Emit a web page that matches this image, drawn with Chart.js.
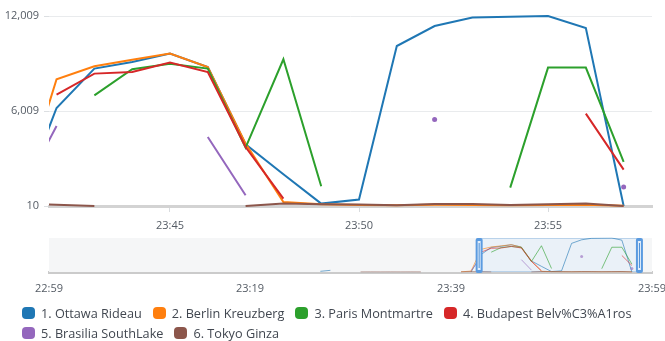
<!DOCTYPE html>
<html>
<head>
<meta charset="utf-8">
<script src="https://cdn.jsdelivr.net/npm/chart.js@4.4.1/dist/chart.umd.min.js"></script>
<style>
  body { margin: 0; background: #fff; font-family: "Open Sans", sans-serif; }
  #wrap { position: relative; width: 665px; height: 341px; overflow: hidden; }
  #main { position: absolute; left: 0; top: 0; }
  #nav { position: absolute; left: 0; top: 232px; }
  #legend { position: absolute; left: 22px; top: 303px; width: 640px; display: flex; flex-wrap: wrap; font-size: 12.7px; color: #414750; }
  .item { display: flex; align-items: center; height: 20px; margin-right: 11px; white-space: nowrap; }
  .swatch { width: 13px; height: 12px; border-radius: 4px; margin-right: 6px; }
</style>
</head>
<body>
<div id="wrap">
  <canvas id="main" width="665" height="236"></canvas>
  <canvas id="nav" width="665" height="68"></canvas>
  <div id="legend"></div>
</div>
<script>
// one sample per minute, null = no data
const times = ["23:26","23:27","23:28","23:29","23:30","23:31","23:32","23:33","23:34","23:35",
               "23:36","23:37","23:38","23:39","23:40","23:41","23:42","23:43","23:44","23:45",
               "23:46","23:47","23:48","23:49","23:50","23:51","23:52","23:53","23:54","23:55",
               "23:56","23:57"];

const names = ["1. Ottawa Rideau", "2. Berlin Kreuzberg", "3. Paris Montmartre",
               "4. Budapest Belv%C3%A1ros", "5. Brasilia SouthLake", "6. Tokyo Ginza"];
const colors = ["#1f77b4", "#ff7f0e", "#2ca02c", "#d62728", "#9467bd", "#8c564b"];

const ottawa = [250, 600, null, null, null, null, null, null, null, null,
                null, null, null, null, null, 10, 6199, 8687, 9100, 9634,
                8790, 3906, 2010, 162, 414, 10114, 11377, 11907, 11960, 12009,
                11250, 10];
const berlin = [null, null, null, null, null, null, null, null, null, null,
                null, null, null, null, 60, 335, 8011, 8832, 9240, 9634,
                8788, 3950, 263, 120, 70, 60, 90, 80, 60, 70,
                90, 30];
const paris = [null, null, null, null, null, null, null, null, null, null,
               null, null, null, null, null, null, null, 7000, 8643, 9000,
               8687, 3698, 9274, 1254, null, null, null, null, 1172, 8750,
               8750, 2789];
const budapest = [null, null, null, null, null, null, null, null, null, null,
                  null, null, null, null, null, null, 7045, 8370, 8472, 9066,
                  8472, 3736, 477, null, null, null, null, null, null, null,
                  5845, 2309];
const brasilia = [null, null, null, null, null, null, null, null, null, null,
                  null, null, null, null, null, 500, 5062, null, null, null,
                  4367, 686, null, null, null, null, 5466, null, null, null,
                  null, 1210];
const tokyo = [null, null, null, null, 30, 40, 30, 40, 30, 40,
               30, null, null, null, 60, 150, 90, 10, null, null,
               null, 10, 160, 120, 110, 55, 136, 130, 73, 117,
               160, 10];

const series = [ottawa, berlin, paris, budapest, brasilia, tokyo];

function toMinutes(t) {
    const [h, m] = t.split(":").map(Number);
    return h * 60 + m;
}
function hhmm(v) {
    const h = Math.floor(v / 60), m = Math.round(v % 60);
    return String(h).padStart(2, "0") + ":" + String(m).padStart(2, "0");
}

// visible window of the big chart, and the full range of the overview strip
const viewFrom = toMinutes("23:41") + 0.8;
const viewTo = toMinutes("23:57") + 0.75;
const navFrom = toMinutes("22:59");
const navTo = toMinutes("23:59");

const font = { family: "'Open Sans', sans-serif", size: 11 };
const tickColor = "#545b64";

// dot for a value with no neighbours, otherwise no point
function loneRadius(r) {
    return ctx => {
        const d = ctx.dataset.data, i = ctx.dataIndex;
        if (!d[i] || d[i].y == null) return 0;
        const prev = i > 0 ? d[i - 1].y : null;
        const next = i < d.length - 1 ? d[i + 1].y : null;
        return (prev == null && next == null) ? r : 0;
    };
}

function makeDatasets(width, alpha, dot) {
    return series.map((vals, k) => ({
        label: names[k],
        data: vals.map((y, i) => ({ x: toMinutes(times[i]), y })),
        borderColor: colors[k] + alpha,
        backgroundColor: colors[k] + alpha,
        borderWidth: width,
        pointRadius: loneRadius(dot),
        pointBorderWidth: 0,
        tension: 0,
        spanGaps: false,
        order: series.length - k
    }));
}

const main = new Chart(document.getElementById("main"), {
    type: "line",
    data: { datasets: makeDatasets(2, "", 2.5) },
    options: {
        responsive: false,
        animation: false,
        layout: { padding: { top: 16, right: 13, left: 0, bottom: 0 } },
        plugins: { legend: { display: false }, tooltip: { enabled: false } },
        scales: {
            x: {
                type: "linear",
                min: viewFrom,
                max: viewTo,
                afterBuildTicks: s => {
                    const t = [];
                    for (let m = Math.ceil(s.min / 5) * 5; m <= s.max; m += 5) t.push({ value: m });
                    s.ticks = t;
                },
                afterFit: s => { s.height = 30; },
                ticks: { callback: v => hhmm(v), color: tickColor, font, padding: 7, maxRotation: 0, autoSkip: false },
                grid: { drawOnChartArea: false, drawTicks: true, tickLength: 6, color: "#d9dcdf" },
                border: { display: true, color: "#d3d3d3", width: 3 }
            },
            y: {
                type: "linear",
                bounds: "data",
                afterBuildTicks: s => {
                    s.ticks = [s.min, (s.min + s.max) / 2, s.max].map(v => ({ value: v }));
                },
                afterFit: s => { s.width = 49; },
                ticks: { callback: v => Math.floor(v).toLocaleString("en-US"), color: tickColor, font, padding: 5 },
                grid: { color: "#e9ebed", tickLength: 5, tickColor: "#dcdfe2" },
                border: { display: false }
            }
        }
    }
});

// grey strip background, selected window and its two handles
const brush = {
    id: "brush",
    beforeDatasetsDraw(chart) {
        const { ctx, chartArea: a, scales: { x } } = chart;
        const x0 = x.getPixelForValue(viewFrom), x1 = x.getPixelForValue(viewTo);
        ctx.save();
        ctx.fillStyle = "#f5f6f7";
        ctx.fillRect(a.left, a.top, a.right - a.left, a.bottom - a.top);
        ctx.fillStyle = "#eaf1f8";
        ctx.fillRect(x0, a.top, x1 - x0, a.bottom - a.top);
        ctx.strokeStyle = "#b9d2ea";
        ctx.lineWidth = 1;
        ctx.strokeRect(x0 + 0.5, a.top + 0.5, x1 - x0 - 1, a.bottom - a.top - 1);
        ctx.restore();
    },
    afterDraw(chart) {
        const { ctx, chartArea: a, scales: { x } } = chart;
        [x.getPixelForValue(viewFrom), x.getPixelForValue(viewTo)].forEach(px => {
            ctx.save();
            ctx.beginPath();
            ctx.roundRect(px - 3.5, a.top, 7, a.bottom - a.top + 1, 2);
            ctx.fillStyle = "#5b9be0";
            ctx.fill();
            ctx.fillStyle = "#e3eefa";
            ctx.fillRect(px - 1.5, a.top + 3, 3, a.bottom - a.top - 5);
            ctx.fillStyle = "#4a8fd8";
            ctx.fillRect(px - 0.5, a.top + 5, 1, a.bottom - a.top - 9);
            ctx.restore();
        });
    }
};

const nav = new Chart(document.getElementById("nav"), {
    type: "line",
    data: { datasets: makeDatasets(1, "99", 1.5) },
    options: {
        responsive: false,
        animation: false,
        layout: { padding: { top: 6, right: 13, left: 49, bottom: 0 } },
        plugins: { legend: { display: false }, tooltip: { enabled: false } },
        scales: {
            x: {
                type: "linear",
                min: navFrom,
                max: navTo,
                afterBuildTicks: s => {
                    const t = [];
                    for (let m = s.min; m <= s.max; m += 20) t.push({ value: m });
                    s.ticks = t;
                },
                afterFit: s => { s.height = 28; s.paddingLeft = 0; s.paddingRight = 0; },
                ticks: { callback: v => hhmm(v), color: tickColor, font, padding: 10, maxRotation: 0, autoSkip: false },
                grid: { drawOnChartArea: false, drawTicks: false },
                border: { display: true, color: "#cbcbcb", width: 3 }
            },
            y: {
                type: "linear",
                bounds: "data",
                display: false
            }
        }
    },
    plugins: [brush]
});

// legend
const legend = document.getElementById("legend");
names.forEach((n, k) => {
    const item = document.createElement("div");
    item.className = "item";
    item.innerHTML = '<span class="swatch" style="background:' + colors[k] + '"></span>' + n;
    legend.appendChild(item);
});
</script>
</body>
</html>
